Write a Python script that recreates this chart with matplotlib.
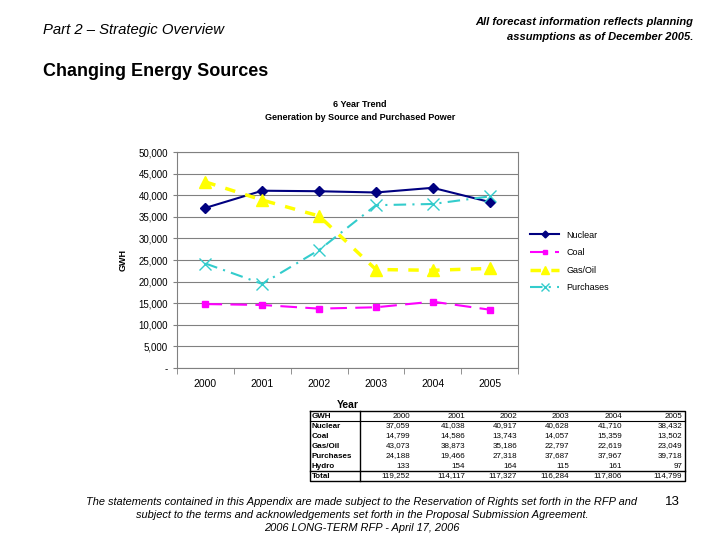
import matplotlib
matplotlib.use("Agg")
from matplotlib import pyplot as plt
import numpy as np

plt.rcParams['font.family'] = ['Liberation Sans', 'DejaVu Sans']

years = ["2000", "2001", "2002", "2003", "2004", "2005"]
nuclear = [37059, 41038, 40917, 40628, 41710, 38432]
coal = [14799, 14586, 13743, 14057, 15359, 13502]
gas_oil = [43073, 38873, 35186, 22797, 22619, 23049]
purchases = [24188, 19466, 27318, 37687, 37967, 39718]
hydro = [133, 154, 164, 115, 161, 97]
total = [119252, 114117, 117327, 116284, 117806, 114799]
yticks = [0, 5000, 10000, 15000, 20000, 25000, 30000, 35000, 40000, 45000, 50000]

fig = plt.figure(figsize=(7.2, 5.4), dpi=100)

# page header / footer
fig.text(43/720, 1-30/540, "Part 2 \u2013 Strategic Overview", fontsize=10.7, style="italic", va="center")
fig.text(693/720, 1-22/540, "All forecast information reflects planning", fontsize=8,
         style="italic", weight="bold", ha="right", va="center")
fig.text(693/720, 1-37/540, "assumptions as of December 2005.", fontsize=8,
         style="italic", weight="bold", ha="right", va="center")
fig.text(43/720, 1-71/540, "Changing Energy Sources", fontsize=13, weight="bold", va="center")
foot = ["The statements contained in this Appendix are made subject to the Reservation of Rights set forth in the RFP and",
        "subject to the terms and acknowledgements set forth in the Proposal Submission Agreement.",
        "2006 LONG-TERM RFP - April 17, 2006"]
for k, line in enumerate(foot):
    fig.text(362/720, 1-(502 + 13*k)/540, line, fontsize=7.9, style="italic", ha="center", va="center")
fig.text(672/720, 1-502/540, "13", fontsize=9.5, ha="center", va="center")

# chart titles
fig.text(360/720, 1-104/540, "6 Year Trend", fontsize=6.5, weight="bold", ha="center", va="center")
fig.text(360/720, 1-117/540, "Generation by Source and Purchased Power", fontsize=6.5,
         weight="bold", ha="center", va="center")

ax = fig.add_axes([177/720, 1-368/540, 341/720, 216/540])
x = np.arange(len(years))
ax.plot(x, nuclear, color="#000080", marker="D", markersize=5, lw=1.5, label="Nuclear")
ax.plot(x, coal, color="#FF00FF", marker="s", markersize=5, lw=1.5, ls=(0, (8, 4)), label="Coal")
ax.plot(x, gas_oil, color="#FFFF00", marker="^", markersize=8, lw=2.5, ls=(0, (3, 3)), label="Gas/Oil")
ax.plot(x, purchases, color="#33CCCC", marker="x", markersize=9, lw=1.5, ls=(0, (6, 3, 1, 3)),
        label="Purchases")

ax.set_xlim(-0.5, 5.5)
ax.set_ylim(0, 50000)
ax.set_yticks(yticks)
ax.set_yticklabels(["-"] + [f"{v:,}" for v in yticks[1:]], fontsize=7)
ax.set_xticks(x)
ax.set_xticklabels(years, fontsize=7.5)
ax.set_xticks(np.arange(-0.5, 6, 1), minor=True)
ax.tick_params(axis="x", which="major", length=0, pad=8)
ax.tick_params(axis="x", which="minor", length=4, color="#808080")
ax.tick_params(axis="y", length=3, color="#808080")
ax.grid(axis="y", color="#808080", lw=0.8)
ax.set_axisbelow(True)
for s in ax.spines.values():
    s.set_color("#808080")
ax.set_ylabel("GWH", fontsize=6.5, weight="bold", labelpad=8)
ax.set_xlabel("Year", fontsize=7.5, weight="bold", labelpad=8)

fig.legend(*ax.get_legend_handles_labels(), loc="upper left", bbox_to_anchor=(526/720, 1-227/540),
           fontsize=6.5, frameon=False, handlelength=3.3, labelspacing=0.95, borderaxespad=0,
           markerscale=0.7)

# data table
tab = fig.add_axes([310/720, 1-481/540, 375/720, 70/540])
tab.set_xlim(0, 375)
tab.set_ylim(7, 0)
tab.axis("off")
rows = ["Nuclear", "Coal", "Gas/Oil", "Purchases", "Hydro", "Total"]
vals = [nuclear, coal, gas_oil, purchases, hydro, total]
col_right = [100, 155, 207, 259, 312, 372]
tab.text(2, 0.5, "GWH", fontsize=5.8, weight="bold", va="center")
for j, yr in enumerate(years):
    tab.text(col_right[j], 0.5, yr, fontsize=5.8, ha="right", va="center")
for i, (name, row) in enumerate(zip(rows, vals)):
    tab.text(2, i + 1.5, name, fontsize=5.8, weight="bold", va="center")
    for j, v in enumerate(row):
        tab.text(col_right[j], i + 1.5, f"{v:,}", fontsize=5.8, ha="right", va="center")
tab.plot([0, 375, 375, 0, 0], [0, 0, 7, 7, 0], color="black", lw=1, clip_on=False)
tab.plot([50, 50], [0, 7], color="black", lw=1, clip_on=False)
tab.plot([0, 375], [1, 1], color="black", lw=0.8, clip_on=False)
tab.plot([0, 375], [6, 6], color="black", lw=1, clip_on=False)

fig.savefig("out.png", dpi=100)
